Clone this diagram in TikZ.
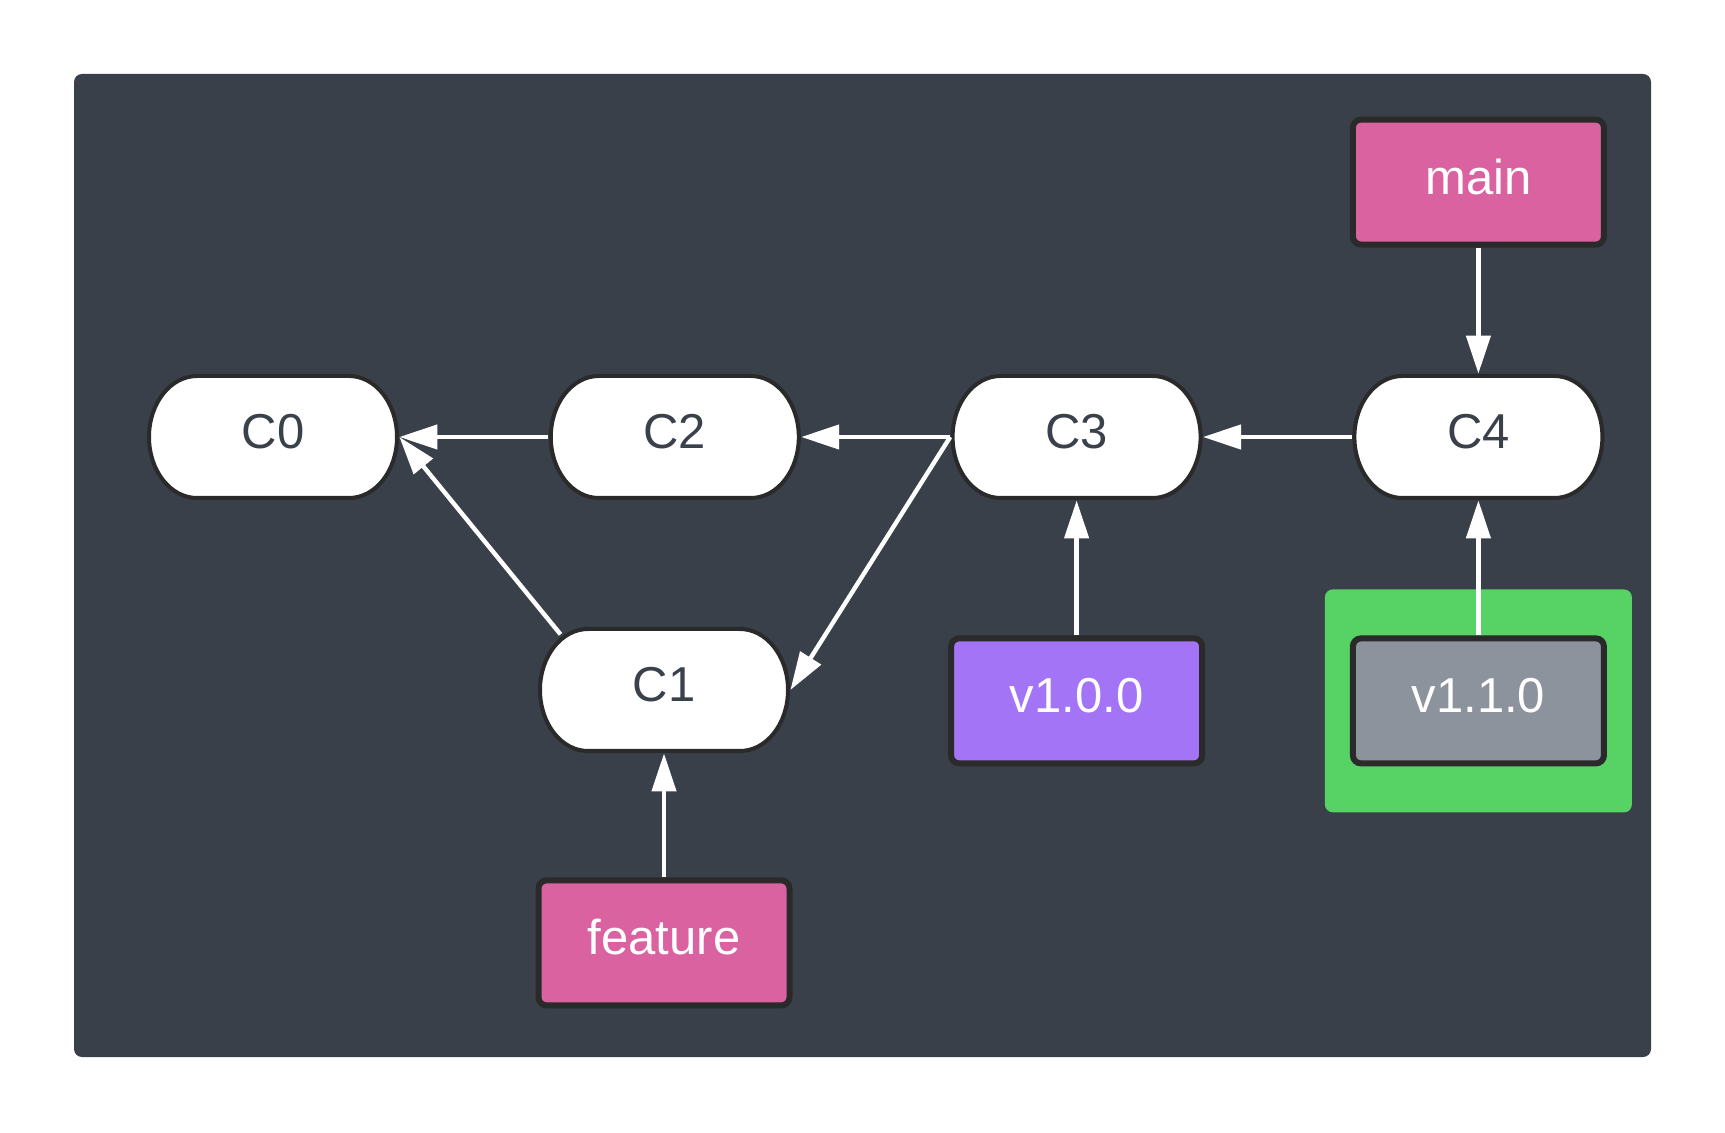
\documentclass[tikz,border=0pt]{standalone}
\usepackage{fontspec}
\setmainfont{Liberation Sans}
\usetikzlibrary{arrows.meta,positioning,backgrounds,fit}

\definecolor{panel}{RGB}{58,64,74}
\definecolor{edgeblack}{RGB}{42,42,42}
\definecolor{committext}{RGB}{58,65,75}
\definecolor{branchpink}{RGB}{219,98,161}
\definecolor{tagpurple}{RGB}{164,116,247}
\definecolor{taggray}{RGB}{140,147,157}
\definecolor{glowgreen}{RGB}{87,211,102}

\begin{document}
\begin{tikzpicture}[%
    x=0.5pt, y=-0.5pt,
    >={Triangle[length=19pt,width=12pt]},
    node distance=63pt,
    label/.style={font=\fontsize{24.5}{29}\selectfont, text height=18pt, text depth=6pt},
    commit/.style={label, rectangle, inner sep=0pt, minimum width=126pt, minimum height=63pt, text=committext},
    ref/.style={label, rectangle, rounded corners=4pt, draw=edgeblack, line width=3pt,
      inner sep=0pt, minimum width=125.5pt, minimum height=62.5pt, text=white},
    branch/.style={ref, fill=branchpink},
    tag/.style={ref, fill=tagpurple},
    oldtag/.style={ref, fill=taggray},
    link/.style={->, color=white, line width=2.2pt},
  ]
    \useasboundingbox (0,0) rectangle (1725,1133);

    \node[commit] (c0) at (273,437)          {C0};
    \node[commit] (c2) [right=74.5pt of c0]  {C2};
    \node[commit] (c3) [right=74.5pt of c2]  {C3};
    \node[commit] (c4) [right=74.5pt of c3]  {C4};
    \node[commit] (c1) at (664,690)          {C1};

    \node[branch] (main)    [above=of c4]       {main};
    \node[branch] (feature) [below=62pt of c1]  {feature};
    \node[tag]    (v100)    [below=67.5pt of c3] {v1.0.0};
    \node[oldtag] (v110)    [below=67.5pt of c4] {v1.1.0};

    \begin{pgfonlayer}{background}
      \fill[panel, rounded corners=4pt] (74,74) rectangle (1651,1057);
      \node[fit=(v110), fill=glowgreen, rounded corners=4pt, inner xsep=12.5pt, inner ysep=23pt] (glow) {};
      % commit outlines with elliptic ends
      \foreach \c in {c0,c1,c2,c3,c4}
        \filldraw[fill=white, draw=edgeblack, line width=2pt]
          ([xshift=-38pt,yshift=30.5pt]\c.center) -- ++(76pt,0)
          arc[start angle=90, end angle=-90, x radius=24pt, y radius=30.5pt]
          -- ++(-76pt,0)
          arc[start angle=270, end angle=90, x radius=24pt, y radius=30.5pt]
          -- cycle;
    \end{pgfonlayer}

    \path[link]
    (c2) edge (c0)
    (c3) edge (c2)
    (c4) edge (c3)
    (c1.150) edge [shorten <=-5pt] (c0.east)
    (c3.west) edge (c1.east)
    (main) edge (c4)
    (v100) edge (c3)
    (v110) edge (c4)
    (feature) edge (c1)
    ;
  \end{tikzpicture}
\end{document}
